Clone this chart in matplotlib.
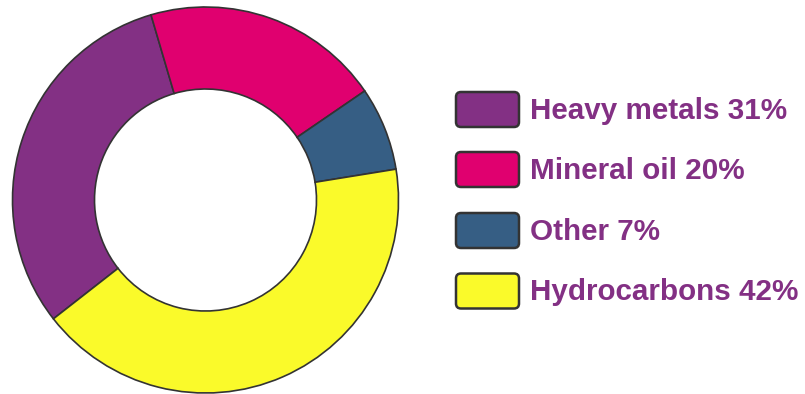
import matplotlib
matplotlib.use("Agg")
import matplotlib.pyplot as plt
from matplotlib.patches import FancyBboxPatch

labels = ["Heavy metals", "Mineral oil", "Other", "Hydrocarbons"]
shares = [31, 20, 7, 42]
colors = ["#833084", "#e0006f", "#365e84", "#fafa2a"]
text_color = "#833084"
edge = "#333333"

W, H = 805, 394
fig = plt.figure(figsize=(W / 100, H / 100), dpi=100)
ax = fig.add_axes([0, 0, 1, 1])

# donut, drawn clockwise from the top-left
ax.pie(shares, colors=colors, center=(205.5, H - 200), radius=193,
       startangle=106.4 + 360 * shares[0] / 100, counterclock=False,
       wedgeprops=dict(width=82, edgecolor=edge, linewidth=1.2))

ax.set_xlim(0, W)
ax.set_ylim(0, H)
ax.set_aspect("equal")
ax.axis("off")

# legend: rounded swatches with bold purple text
box_w, box_h = 63, 35
row_y = [109.5, 169.5, 230.5, 291]
texts = []
for lab, val, col, yc in zip(labels, shares, colors, row_y):
    ax.add_patch(FancyBboxPatch((456 + 5, H - yc - box_h / 2 + 5), box_w - 10, box_h - 10,
                                boxstyle="round,pad=5", facecolor=col,
                                edgecolor=edge, linewidth=1.8))
    texts.append(ax.text(530, H - yc - 9.5, f"{lab} {val}%", color=text_color,
                         fontsize=22, fontweight="bold", family="Liberation Sans",
                         va="baseline", ha="left"))

# fit the longest label into the space on the right
r = fig.canvas.get_renderer()
wmax = max(t.get_window_extent(r).width for t in texts)
for t in texts:
    t.set_fontsize(22 * 268 / wmax)

fig.savefig("out.png", dpi=100)
